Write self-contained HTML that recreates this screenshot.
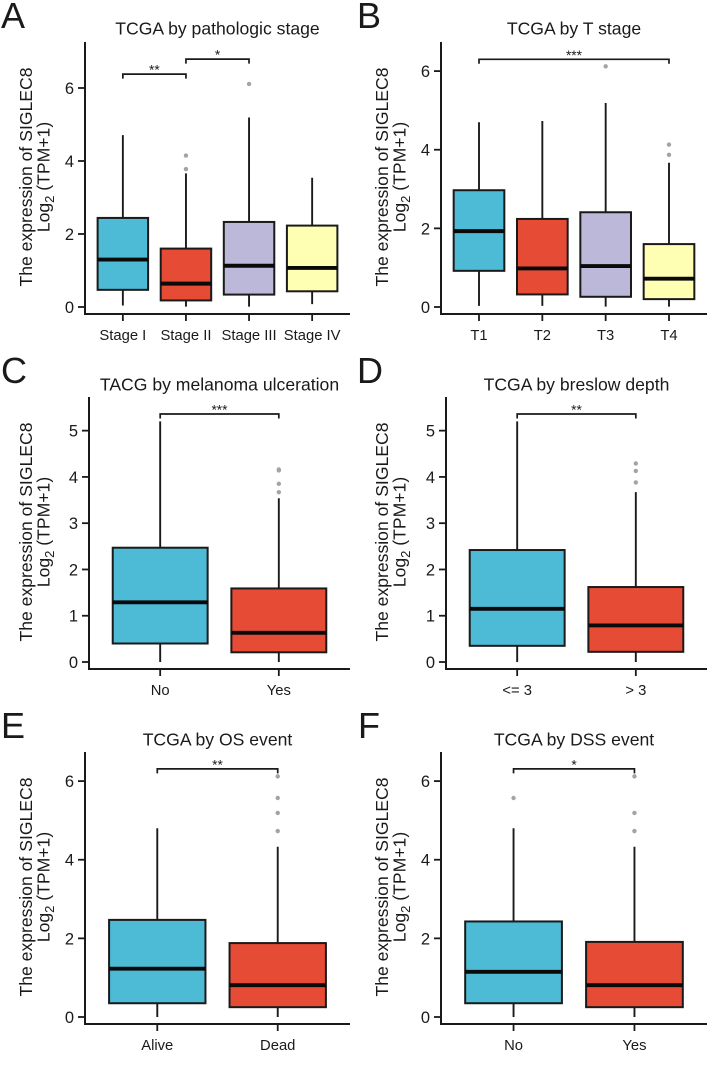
<!DOCTYPE html>
<html lang="en">
<head>
<meta charset="utf-8">
<title>SIGLEC8 expression box plots</title>
<style>
html,body{margin:0;padding:0;background:#fff;width:709px;height:1079px;overflow:hidden}
svg{display:block;filter:blur(.35px)}
text{font-family:"Liberation Sans",sans-serif;fill:#1a1a1a}
</style>
</head>
<body>
<svg id="figure" xmlns="http://www.w3.org/2000/svg" width="709" height="1079" viewBox="0 0 709 1079"></svg>
<script>
// Panel A
const aCategories = ["Stage I", "Stage II", "Stage III", "Stage IV"];
const aLow = [0.04, 0.01, 0.01, 0.08];
const aQ1 = [0.47, 0.18, 0.34, 0.43];
const aMedian = [1.30, 0.64, 1.13, 1.07];
const aQ3 = [2.44, 1.60, 2.33, 2.23];
const aHigh = [4.71, 3.66, 5.19, 3.54];
const aOutliers = [[], [3.78, 4.15], [6.11], []];
const aTicks = [0, 2, 4, 6];
const aBrackets = [[0, 1, 6.38, "**"], [1, 2, 6.79, "*"]];
// Panel B
const bCategories = ["T1", "T2", "T3", "T4"];
const bLow = [0.03, 0.03, 0.01, 0.01];
const bQ1 = [0.92, 0.32, 0.26, 0.20];
const bMedian = [1.93, 0.98, 1.04, 0.72];
const bQ3 = [2.97, 2.24, 2.41, 1.60];
const bHigh = [4.70, 4.73, 5.19, 3.67];
const bOutliers = [[], [], [6.12], [3.87, 4.13]];
const bTicks = [0, 2, 4, 6];
const bBrackets = [[0, 3, 6.30, "***"]];
// Panel C
const cCategories = ["No", "Yes"];
const cLow = [0, 0];
const cQ1 = [0.40, 0.21];
const cMedian = [1.29, 0.63];
const cQ3 = [2.47, 1.59];
const cHigh = [5.20, 3.54];
const cOutliers = [[], [3.67, 3.85, 4.14, 4.16]];
const cTicks = [0, 1, 2, 3, 4, 5];
const cBrackets = [[0, 1, 5.36, "***"]];
// Panel D
const dCategories = ["<= 3", "> 3"];
const dLow = [0, 0];
const dQ1 = [0.35, 0.22];
const dMedian = [1.15, 0.79];
const dQ3 = [2.42, 1.62];
const dHigh = [5.20, 3.67];
const dOutliers = [[], [3.88, 4.13, 4.29]];
const dTicks = [0, 1, 2, 3, 4, 5];
const dBrackets = [[0, 1, 5.36, "**"]];
// Panel E
const eCategories = ["Alive", "Dead"];
const eLow = [0, 0];
const eQ1 = [0.35, 0.25];
const eMedian = [1.23, 0.81];
const eQ3 = [2.47, 1.88];
const eHigh = [4.80, 4.33];
const eOutliers = [[], [4.73, 5.19, 5.57, 6.12]];
const eTicks = [0, 2, 4, 6];
const eBrackets = [[0, 1, 6.31, "**"]];
// Panel F
const fCategories = ["No", "Yes"];
const fLow = [0, 0];
const fQ1 = [0.35, 0.25];
const fMedian = [1.15, 0.81];
const fQ3 = [2.43, 1.91];
const fHigh = [4.80, 4.33];
const fOutliers = [[5.57], [4.73, 5.19, 6.12]];
const fTicks = [0, 2, 4, 6];
const fBrackets = [[0, 1, 6.31, "*"]];

const fills = ["#4DBBD5", "#E64B35", "#BCB8D9", "#FFFFB3"];
const INK = "#1a1a1a";
const SVGNS = "http://www.w3.org/2000/svg";
const root = document.getElementById("figure");

function make(parent, tag, attrs, text) {
  const node = document.createElementNS(SVGNS, tag);
  for (const k in attrs) node.setAttribute(k, attrs[k]);
  if (text !== undefined) node.textContent = text;
  parent.appendChild(node);
  return node;
}

function drawPanel(p) {
  const g = make(root, "g", {});
  
  

  const yScale = v => p.bottom - (v - p.yMin) / (p.yMax - p.yMin) * (p.bottom - p.top);
  const n = p.categories.length;
  const step = (p.right - p.left) / (n - 1 + 1.2);
  const xScale = i => p.left + (i + 0.6) * step;
  const boxW = step * 0.8;
  const midX = (p.left + p.right) / 2;
  const midY = yScale(0) - p.titleCenterOffset;

  const letter = make(g, "text", {x: p.letterX, y: p.letterY, "font-size": 36}, p.letter);
  
  

  const title = make(g, "text", {x: midX, y: p.titleY, "font-size": 17.6, "text-anchor": "middle"}, p.title);
  
  

  const yTitle1 = make(g, "text", {transform: "translate(" + p.yTitleX + "," + midY + ") rotate(-90)", "font-size": 17.6, "text-anchor": "middle"}, "The expression of SIGLEC8");
  
  

  const yTitle2 = make(g, "text", {transform: "translate(" + (p.yTitleX + 17.5) + "," + midY + ") rotate(-90)", "font-size": 17.6, "text-anchor": "middle"});
  
  
  make(yTitle2, "tspan", {}, "Log");
  make(yTitle2, "tspan", {"font-size": 13, dy: 4.5}, "2");
  make(yTitle2, "tspan", {dy: -4.5}, " (TPM+1)");

  p.categories.forEach((cat, i) => {
    const x = xScale(i);
    const whisker = make(g, "line", {x1: x, x2: x, y1: yScale(p.high[i]), y2: yScale(p.low[i]), stroke: INK, "stroke-width": 1.9});
    
    

    const box = make(g, "rect", {x: x - boxW / 2, y: yScale(p.q3[i]), width: boxW, height: yScale(p.q1[i]) - yScale(p.q3[i]), fill: fills[i], stroke: INK, "stroke-width": 2});
    
    

    const median = make(g, "line", {x1: x - boxW / 2, x2: x + boxW / 2, y1: yScale(p.median[i]), y2: yScale(p.median[i]), stroke: "#0a0a0a", "stroke-width": 3.9});
    
    

    p.outliers[i].forEach(v => {
      const dot = make(g, "circle", {cx: x, cy: yScale(v), r: 2.2, fill: "#a3a3a3"});
      
      
    });

    const tick = make(g, "line", {x1: x, x2: x, y1: p.bottom, y2: p.bottom + 7, stroke: INK, "stroke-width": 1.8});
    
    

    const label = make(g, "text", {x: x, y: p.bottom + 26, "font-size": 14.8, "text-anchor": "middle"}, cat);
    
    
  });

  p.ticks.forEach(v => {
    const tick = make(g, "line", {x1: p.left - 7, x2: p.left, y1: yScale(v), y2: yScale(v), stroke: INK, "stroke-width": 1.8});
    
    

    const label = make(g, "text", {x: p.left - 11, y: yScale(v) + 6, "font-size": 16.5, "text-anchor": "end"}, String(v));
    
    
  });

  const axisY = make(g, "line", {x1: p.left, x2: p.left, y1: p.top, y2: p.bottom + 1, stroke: INK, "stroke-width": 2});
  
  

  const axisX = make(g, "line", {x1: p.left, x2: p.right, y1: p.bottom, y2: p.bottom, stroke: INK, "stroke-width": 2});
  
  

  p.brackets.forEach(b => {
    const x1 = xScale(b[0]), x2 = xScale(b[1]), y = yScale(b[2]);
    const path = make(g, "path", {d: "M" + x1 + " " + (y + 4.5) + "V" + y + "H" + x2 + "V" + (y + 4.5), fill: "none", stroke: INK, "stroke-width": 1.7});
    
    

    const stars = make(g, "text", {x: (x1 + x2) / 2, y: y + 0.5, "font-size": 13.8, "text-anchor": "middle"}, b[3]);
    
    
  });
}

drawPanel({letter: "A", title: "TCGA by pathologic stage", letterX: 1, letterY: 28, titleY: 34.5,
  left: 85, right: 350, top: 42, bottom: 314, yMin: -0.192, yMax: 7.26, yTitleX: 32, titleCenterOffset: 130,
  categories: aCategories, low: aLow, q1: aQ1, median: aMedian, q3: aQ3, high: aHigh, outliers: aOutliers, ticks: aTicks, brackets: aBrackets});
drawPanel({letter: "B", title: "TCGA by T stage", letterX: 357, letterY: 28, titleY: 34.5,
  left: 441, right: 707, top: 42, bottom: 314, yMin: -0.178, yMax: 6.74, yTitleX: 388, titleCenterOffset: 130,
  categories: bCategories, low: bLow, q1: bQ1, median: bMedian, q3: bQ3, high: bHigh, outliers: bOutliers, ticks: bTicks, brackets: bBrackets});
drawPanel({letter: "C", title: "TACG by melanoma ulceration", letterX: 1, letterY: 383, titleY: 390.5,
  left: 89, right: 350, top: 397, bottom: 669, yMin: -0.151, yMax: 5.727, yTitleX: 32, titleCenterOffset: 130,
  categories: cCategories, low: cLow, q1: cQ1, median: cMedian, q3: cQ3, high: cHigh, outliers: cOutliers, ticks: cTicks, brackets: cBrackets});
drawPanel({letter: "D", title: "TCGA by breslow depth", letterX: 357, letterY: 383, titleY: 390.5,
  left: 446, right: 707, top: 397, bottom: 669, yMin: -0.151, yMax: 5.727, yTitleX: 388, titleCenterOffset: 130,
  categories: dCategories, low: dLow, q1: dQ1, median: dMedian, q3: dQ3, high: dHigh, outliers: dOutliers, ticks: dTicks, brackets: dBrackets});
drawPanel({letter: "E", title: "TCGA by OS event", letterX: 1, letterY: 738, titleY: 745.5,
  left: 85, right: 350, top: 752, bottom: 1024, yMin: -0.178, yMax: 6.74, yTitleX: 32, titleCenterOffset: 130,
  categories: eCategories, low: eLow, q1: eQ1, median: eMedian, q3: eQ3, high: eHigh, outliers: eOutliers, ticks: eTicks, brackets: eBrackets});
drawPanel({letter: "F", title: "TCGA by DSS event", letterX: 358, letterY: 738, titleY: 745.5,
  left: 441, right: 707, top: 752, bottom: 1024, yMin: -0.178, yMax: 6.74, yTitleX: 388, titleCenterOffset: 130,
  categories: fCategories, low: fLow, q1: fQ1, median: fMedian, q3: fQ3, high: fHigh, outliers: fOutliers, ticks: fTicks, brackets: fBrackets});
</script>
</body>
</html>
